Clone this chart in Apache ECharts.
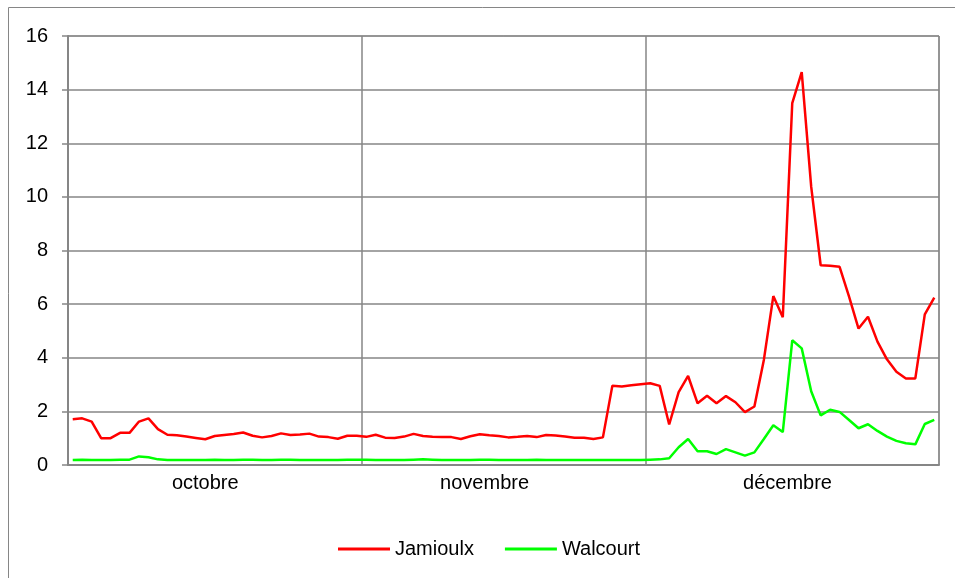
<!DOCTYPE html>
<html>
<head>
<meta charset="utf-8">
<script src="https://cdn.jsdelivr.net/npm/echarts@6/dist/echarts.min.js"></script>
<style>
html,body{margin:0;padding:0;background:#fff;}
#chart{width:955px;height:578px;}
</style>
</head>
<body>
<div id="chart"></div>
<script>
var months = ['octobre', 'novembre', 'décembre'];
var monthDays = [31, 30, 31];
var monthLabelPos = [14.5, 44, 76];
var yTicks = [0, 2, 4, 6, 8, 10, 12, 14, 16];

var jamioulx = [
  1.71,1.74,1.62,1.00,1.00,1.20,1.20,1.62,1.74,1.34,1.13,1.11,1.06,1.01,0.96,1.08,1.12,1.16,1.21,1.09,1.03,1.08,1.18,1.12,1.14,1.17,1.06,1.04,0.98,1.09,1.09,
  1.05,1.13,1.02,1.01,1.06,1.16,1.08,1.05,1.04,1.04,0.97,1.07,1.15,1.11,1.08,1.03,1.05,1.08,1.04,1.12,1.10,1.06,1.02,1.02,0.97,1.03,2.96,2.93,2.97,3.01,
  3.05,2.95,1.51,2.72,3.32,2.30,2.58,2.30,2.57,2.34,1.97,2.18,3.92,6.30,5.51,13.50,14.65,10.38,7.45,7.43,7.39,6.28,5.09,5.53,4.60,3.94,3.48,3.23,3.23,5.62,6.24
];
var walcourt = [
  0.19,0.20,0.19,0.19,0.19,0.20,0.20,0.32,0.29,0.21,0.19,0.19,0.19,0.19,0.19,0.20,0.19,0.19,0.20,0.20,0.19,0.19,0.20,0.20,0.19,0.19,0.19,0.19,0.19,0.20,0.20,
  0.20,0.19,0.19,0.19,0.19,0.20,0.21,0.20,0.19,0.19,0.19,0.19,0.20,0.20,0.19,0.19,0.19,0.19,0.20,0.19,0.19,0.19,0.19,0.19,0.19,0.19,0.19,0.19,0.19,0.19,
  0.20,0.21,0.25,0.66,0.97,0.51,0.51,0.41,0.59,0.47,0.35,0.47,0.97,1.48,1.23,4.65,4.35,2.75,1.85,2.06,1.98,1.68,1.37,1.52,1.27,1.06,0.90,0.81,0.77,1.53,1.68
];

var days = [];
var boundaries = [];
var acc = 0;
for (var m = 0; m < months.length; m++) {
  if (m > 0) boundaries.push(acc);
  for (var d = 1; d <= monthDays[m]; d++) days.push(d + ' ' + months[m]);
  acc += monthDays[m];
}
var totalDays = acc;

var gridColor = '#868686';
var font = 'Liberation Sans, Arial, sans-serif';

var chart = echarts.init(document.getElementById('chart'), null, {renderer: 'canvas'});
chart.setOption({
  animation: false,
  backgroundColor: '#fff',
  graphic: [{
    type: 'rect',
    shape: {x: 8.5, y: 7.5, width: 1000, height: 1000},
    style: {fill: 'none', stroke: gridColor, lineWidth: 1},
    silent: true
  }],
  grid: {left: 68, right: 16, top: 36, bottom: 113, show: true, borderColor: gridColor, borderWidth: 1, backgroundColor: 'transparent'},
  legend: {
    data: ['Jamioulx', 'Walcourt'],
    left: 333, top: 534,
    itemWidth: 52, itemHeight: 3, itemGap: 31,
    icon: 'rect',
    textStyle: {fontSize: 20, color: '#000', fontFamily: font}
  },
  xAxis: [{
    type: 'category',
    data: days,
    boundaryGap: true,
    axisLine: {show: true, lineStyle: {color: gridColor, width: 2}},
    axisTick: {show: false},
    axisLabel: {show: false},
    splitLine: {
      show: true,
      interval: function (idx) { return boundaries.indexOf(idx) >= 0; },
      lineStyle: {color: gridColor, width: 1.5}
    }
  }, {
    type: 'value',
    position: 'bottom',
    min: 0, max: totalDays, interval: 0.5,
    axisLine: {show: false},
    axisTick: {show: false},
    splitLine: {show: false},
    axisLabel: {
      show: true, margin: 8, fontSize: 20, color: '#000', fontFamily: font,
      showMinLabel: false, showMaxLabel: false,
      formatter: function (v) {
        var k = monthLabelPos.indexOf(v);
        return k >= 0 ? months[k] : '';
      }
    }
  }],
  yAxis: {
    type: 'value',
    min: yTicks[0], max: yTicks[yTicks.length - 1], interval: 2,
    axisLine: {show: true, lineStyle: {color: gridColor, width: 2}},
    axisTick: {show: true, length: 6, lineStyle: {color: gridColor, width: 1.5}},
    axisLabel: {margin: 20, fontSize: 20, color: '#000', fontFamily: font},
    splitLine: {show: true, lineStyle: {color: gridColor, width: 1.5}}
  },
  series: [{
    name: 'Jamioulx',
    type: 'line',
    data: jamioulx,
    symbol: 'none',
    lineStyle: {color: '#ff0000', width: 2.5},
    itemStyle: {color: '#ff0000'}
  }, {
    name: 'Walcourt',
    type: 'line',
    data: walcourt,
    symbol: 'none',
    lineStyle: {color: '#00ff00', width: 2.5},
    itemStyle: {color: '#00ff00'}
  }]
});
</script>
</body>
</html>
